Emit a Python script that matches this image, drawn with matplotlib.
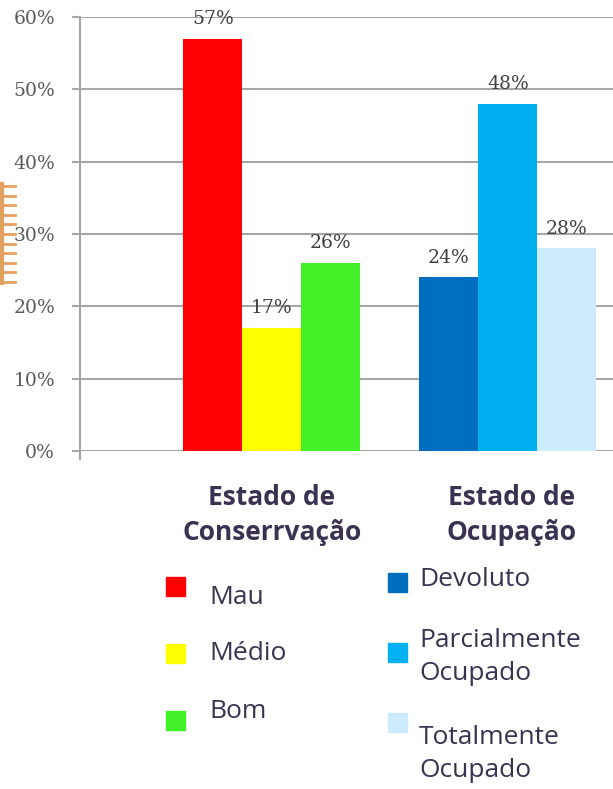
import matplotlib
matplotlib.use("Agg")
import matplotlib.pyplot as plt
from matplotlib.patches import Rectangle
from matplotlib.lines import Line2D

groups = ["Estado de\nConserrvação", "Estado de\nOcupação"]
cons_labels = ["Mau", "Médio", "Bom"]
cons_values = [57, 17, 26]
cons_colors = ["#FF0000", "#FFFF00", "#44F028"]
ocup_labels = ["Devoluto", "Parcialmente\nOcupado", "Totalmente\nOcupado"]
ocup_values = [24, 48, 28]
ocup_colors = ["#006EBF", "#00B0F0", "#CDEBFC"]
yticks = [0, 10, 20, 30, 40, 50, 60]

W, H = 613, 789
fig = plt.figure(figsize=(W / 100, H / 100), dpi=100)

def fx(px):
    return px / W

def fy(py):
    return 1 - py / H

ax_left, ax_right, ax_top, ax_bot = 80, 613, 17, 451
ax = fig.add_axes([fx(ax_left), fy(ax_bot), fx(ax_right - ax_left), (ax_bot - ax_top) / H])
bw = 59
ax.set_xlim(0, (ax_right - ax_left) / bw)
ax.set_ylim(0, 60)

serif = ["DejaVu Serif"]
c1 = [2.25 + i for i in range(3)]
c2 = [6.25 + i for i in range(3)]
for xs, vals, cols in [(c1, cons_values, cons_colors), (c2, ocup_values, ocup_colors)]:
    ax.bar(xs, vals, width=1.0, color=cols, zorder=3)
    for x, v in zip(xs, vals):
        ax.text(x, v + 1.5, f"{v}%", ha="center", va="bottom", fontsize=13.5,
                family=serif, color="#404040", zorder=4)

ax.set_yticks(yticks)
ax.set_yticklabels([f"{t}%" for t in yticks], family=serif, fontsize=13.5, color="#595959")
ax.set_xticks([])
ax.yaxis.grid(True, color="#A6A6A6", linewidth=1.5, zorder=0)
ax.tick_params(axis="y", length=6, width=1.5, color="#A6A6A6", pad=12)
for s in ["top", "right", "bottom"]:
    ax.spines[s].set_visible(False)
ax.spines["left"].set_color("#A6A6A6")
ax.spines["left"].set_linewidth(1.5)
ax.spines["left"].set_bounds(-1.1, 60)
ax.set_facecolor("white")

# orange ruler decoration
rc = "#E3A060"
fig.add_artist(Line2D([fx(2), fx(2)], [fy(184), fy(283)], color=rc, lw=3, transform=fig.transFigure))
for i in range(11):
    yy = 186 + i * 9.6
    fig.add_artist(Line2D([fx(1), fx(15)], [fy(yy), fy(yy)], color=rc, lw=2, transform=fig.transFigure))

# legend area
tcol = "#3B3150"
sans = ["Open Sans", "DejaVu Sans"]
fs = 19
fig.text(fx(272), fy(515), groups[0], ha="center", va="center", fontsize=fs,
         fontweight="bold", family=sans, color=tcol, linespacing=1.4)
fig.text(fx(512), fy(515), groups[1], ha="center", va="center", fontsize=fs,
         fontweight="bold", family=sans, color=tcol, linespacing=1.4)

sq = 19
left_sq_y = [577, 644, 711]
left_txt_y = [597, 654, 712]
for lab, col, sy, ty in zip(cons_labels, cons_colors, left_sq_y, left_txt_y):
    fig.add_artist(Rectangle((fx(166), fy(sy + sq)), sq / W, sq / H, color=col, transform=fig.transFigure))
    fig.text(fx(209), fy(ty), lab, ha="left", va="center", fontsize=fs, family=sans, color=tcol)

right_sq_y = [573, 643, 713]
right_txt_y = [580, 657, 754]
for lab, col, sy, ty in zip(ocup_labels, ocup_colors, right_sq_y, right_txt_y):
    fig.add_artist(Rectangle((fx(388), fy(sy + sq)), sq / W, sq / H, color=col, transform=fig.transFigure))
    fig.text(fx(419), fy(ty), lab, ha="left", va="center", fontsize=fs, family=sans,
             color=tcol, linespacing=1.4)

fig.savefig("out.png", dpi=100, facecolor="white")
